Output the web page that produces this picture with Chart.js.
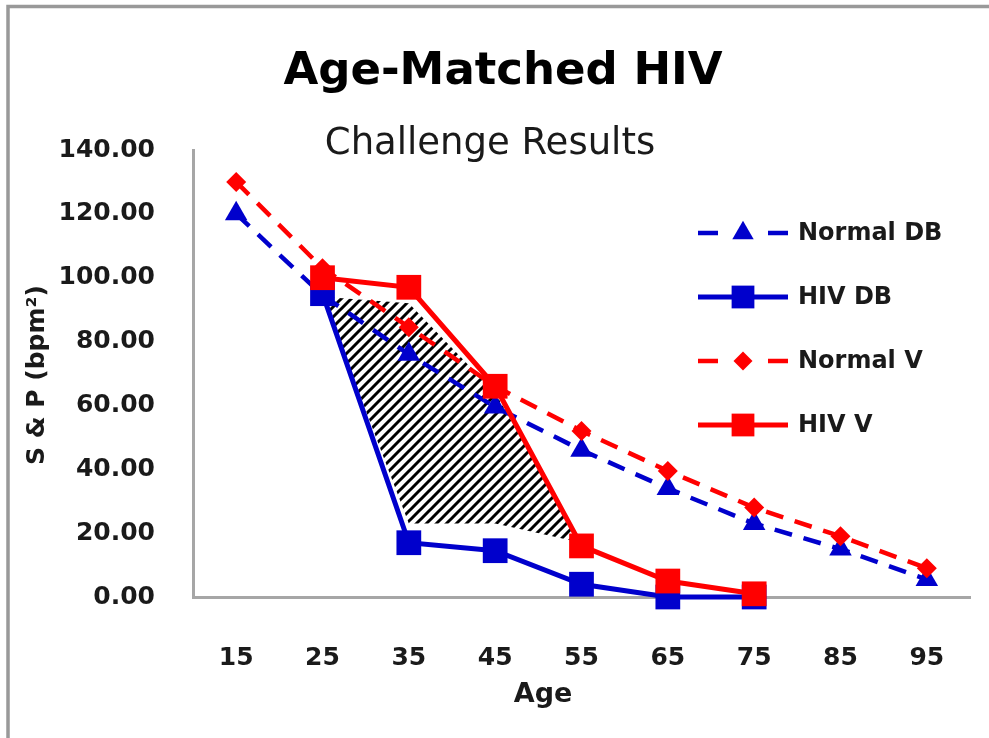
<!DOCTYPE html>
<html>
<head>
<meta charset="utf-8">
<title>Age-Matched HIV</title>
<script src="https://cdn.jsdelivr.net/npm/chart.js@4.4.0/dist/chart.umd.min.js"></script>
<style>
  html, body { margin: 0; padding: 0; background: #fff; }
  #wrap { width: 989px; height: 738px; }
</style>
</head>
<body>
<div id="wrap"><canvas id="myChart" width="989" height="738"></canvas></div>
<script>
/* ---- Data ---- */
const ageLabels = ["15", "25", "35", "45", "55", "65", "75", "85", "95"];
const normalDB  = [120, 94.5, 76, 59.5, 46, 34, 23, 15, 5.5];
const hivDB     = [null, 95, 17, 14.5, 4, 0, 0, null, null];
const normalV   = [130, 103, 84.5, 66, 52, 39.5, 28, 19, 9];
const hivV      = [null, 100, 97, 66, 16, 5, 1, null, null];
// shaded band between the HIV curves (hand drawn in the original)
const hatchTop    = [null, 94, 92, 64, 17, null, null, null, null];
const hatchBottom = [null, 94, 23, 23, 17, null, null, null, null];

const titleText    = "Age-Matched HIV";
const subtitleText = "Challenge Results";
const xTitleText   = "Age";
const yTitleText   = "S & P (bpm²)";

/* ---- Styles ---- */
const BLUE  = "#0000CC";
const RED   = "#FF0000";
const AXIS  = "#A6A6A6";
const TEXT  = "#1a1a1a";
const FONT  = "'DejaVu Sans', sans-serif";

/* hatch pattern: black "/" stripes on white */
function makeHatch() {
  const n = 10;
  const c = document.createElement("canvas");
  c.width = n; c.height = n;
  const p = c.getContext("2d");
  p.fillStyle = "#fff";
  p.fillRect(0, 0, n, n);
  p.strokeStyle = "#000";
  p.lineWidth = 3;
  p.beginPath();
  p.moveTo(-2, n + 2); p.lineTo(n + 2, -2);
  p.moveTo(-2, 2);     p.lineTo(2, -2);
  p.moveTo(n - 2, n + 2); p.lineTo(n + 2, n - 2);
  p.stroke();
  return p.createPattern(c, "repeat");
}

/* ---- Titles, axis titles, frame and legend ---- */
function drawMarker(ctx, style, r, x, y, color) {
  ctx.fillStyle = color;
  ctx.beginPath();
  if (style === "rect") {
    const s = Math.SQRT1_2 * r;
    ctx.rect(x - s, y - s, 2 * s, 2 * s);
  } else if (style === "triangle") {
    for (let i = 0; i < 3; i++) {
      const a = i * 2 * Math.PI / 3;
      const px = x + Math.sin(a) * r, py = y - Math.cos(a) * r;
      i ? ctx.lineTo(px, py) : ctx.moveTo(px, py);
    }
    ctx.closePath();
  } else {
    ctx.moveTo(x - r, y); ctx.lineTo(x, y - r);
    ctx.lineTo(x + r, y); ctx.lineTo(x, y + r);
    ctx.closePath();
  }
  ctx.fill();
}

const decoPlugin = {
  id: "deco",
  beforeDraw(chart) {
    const ctx = chart.ctx;
    ctx.save();
    ctx.strokeStyle = "#999";
    ctx.lineWidth = 3.5;
    ctx.beginPath();
    ctx.moveTo(8, 738); ctx.lineTo(8, 6.5); ctx.lineTo(989, 6.5);
    ctx.stroke();
    ctx.restore();
  },
  afterDraw(chart) {
    const ctx = chart.ctx;
    ctx.save();
    ctx.fillStyle = "#000";
    ctx.textAlign = "center";
    ctx.textBaseline = "middle";
    ctx.font = "bold 45px " + FONT;
    ctx.fillText(titleText, 503, 72);
    ctx.fillStyle = TEXT;
    ctx.font = "37px " + FONT;
    ctx.fillText(subtitleText, 490, 144);

    ctx.font = "bold 27px " + FONT;
    ctx.fillText(xTitleText, 543, 695);
    ctx.save();
    ctx.translate(37, 375);
    ctx.rotate(-Math.PI / 2);
    ctx.font = "bold 25px " + FONT;
    ctx.fillText(yTitleText, 0, 0);
    ctx.restore();

    // legend, inside the plot
    const order = [3, 1, 2, 0];
    order.forEach((idx, i) => {
      const ds = chart.data.datasets[idx];
      const y = 233 + i * 64;
      ctx.strokeStyle = ds.borderColor;
      ctx.lineWidth = ds.borderWidth;
      ctx.beginPath();
      if (ds.borderDash) {
        ctx.moveTo(698, y); ctx.lineTo(718, y);
        ctx.moveTo(768, y); ctx.lineTo(788, y);
      } else {
        ctx.moveTo(698, y); ctx.lineTo(788, y);
      }
      ctx.stroke();
      drawMarker(ctx, ds.pointStyle, ds.pointRadius * (ds.pointStyle === "rect" ? 0.92 : 0.95), 743, y, ds.borderColor);
      ctx.fillStyle = TEXT;
      ctx.textAlign = "left";
      ctx.font = "bold 24px " + FONT;
      ctx.fillText(ds.label, 798, y + 1);
    });
    ctx.restore();
  }
};

/* ---- Chart ---- */
const ctx = document.getElementById("myChart").getContext("2d");

new Chart(ctx, {
  type: "line",
  data: {
    labels: ageLabels,
    datasets: [
      {
        label: "HIV V", data: hivV,
        borderColor: RED, backgroundColor: RED, borderWidth: 5,
        pointStyle: "rect", pointRadius: 17.5, pointBorderWidth: 0,
        fill: false, clip: false,
      },
      {
        label: "HIV DB", data: hivDB,
        borderColor: BLUE, backgroundColor: BLUE, borderWidth: 5,
        pointStyle: "rect", pointRadius: 17.5, pointBorderWidth: 0,
        fill: false, clip: false,
      },
      {
        label: "Normal V", data: normalV,
        borderColor: RED, backgroundColor: RED, borderWidth: 4.5,
        borderDash: [18, 12],
        pointStyle: "rectRot", pointRadius: 10, pointBorderWidth: 0,
        fill: false, clip: false,
      },
      {
        label: "Normal DB", data: normalDB,
        borderColor: BLUE, backgroundColor: BLUE, borderWidth: 4.5,
        borderDash: [18, 12],
        pointStyle: "triangle", pointRadius: 13, pointBorderWidth: 0,
        fill: false, clip: false,
      },
      {
        label: "hatch", data: hatchTop,
        borderWidth: 0, pointRadius: 0, tension: 0,
        backgroundColor: makeHatch(),
        fill: "+1",
      },
      {
        label: "hatch-base", data: hatchBottom,
        borderWidth: 0, pointRadius: 0, tension: 0,
        fill: false,
      },
    ],
  },
  options: {
    responsive: false,
    animation: false,
    layout: { padding: { top: 150, right: 19, left: 0, bottom: 0 } },
    plugins: {
      legend: { display: false },
      tooltip: { enabled: false },
    },
    scales: {
      x: {
        type: "category",
        offset: true,
        grid: { display: false },
        border: { color: AXIS, width: 3 },
        ticks: { color: TEXT, padding: 38, font: { family: FONT, size: 25, weight: "bold" } },
        afterFit: s => { s.height = 141; },
      },
      y: {
        min: 0, max: 140,
        grid: { display: false },
        border: { color: AXIS, width: 3 },
        ticks: {
          stepSize: 20, color: TEXT, padding: 30,
          font: { family: FONT, size: 25, weight: "bold" },
          callback: v => Number(v).toFixed(2),
        },
        afterFit: s => { s.width = 193; },
      },
    },
  },
  plugins: [decoPlugin],
});
</script>
</body>
</html>
